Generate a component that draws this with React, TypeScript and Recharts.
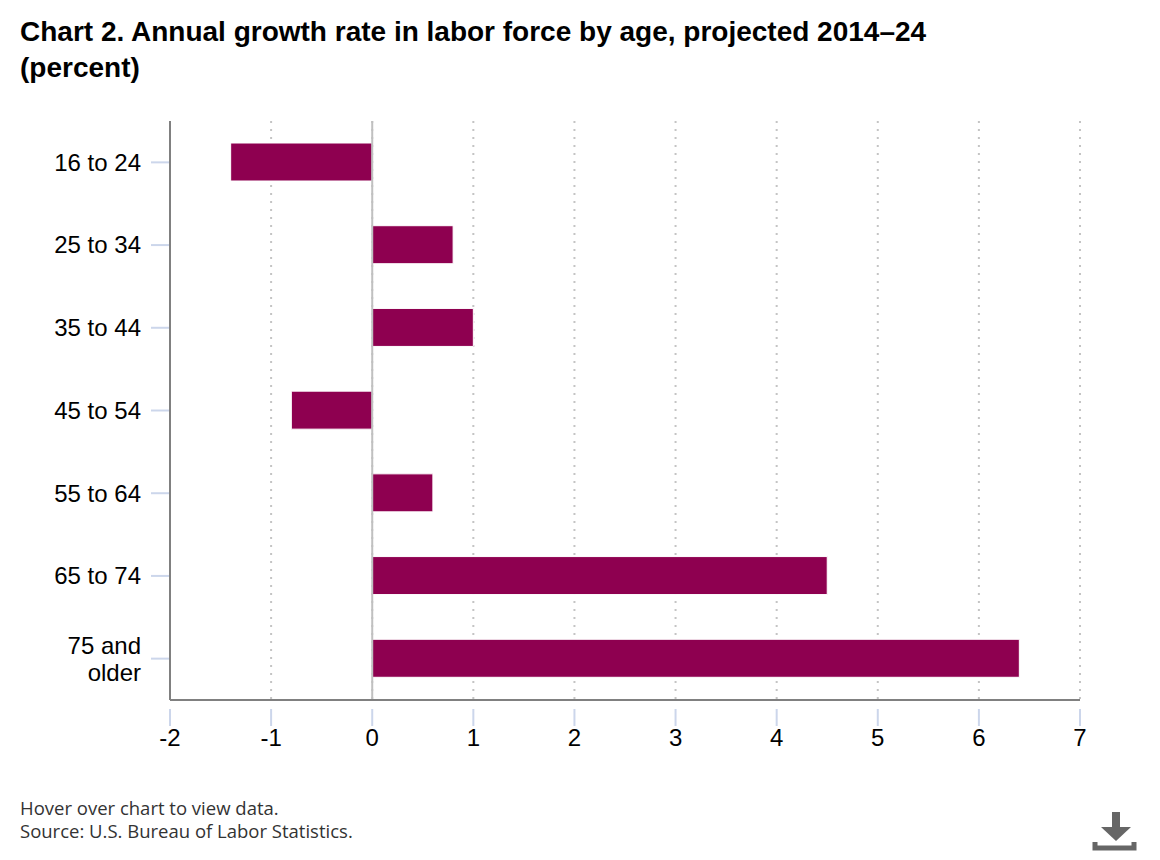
import React from "react";
import { BarChart, Bar, XAxis, YAxis, CartesianGrid, ReferenceLine } from "recharts";

const ageGroups = ["16 to 24", "25 to 34", "35 to 44", "45 to 54", "55 to 64", "65 to 74", "75 and older"];
const growthRates = [-1.4, 0.8, 1.0, -0.8, 0.6, 4.5, 6.4];
const xTicks = [-2, -1, 0, 1, 2, 3, 4, 5, 6, 7];

const data = ageGroups.map((age, i) => ({ age, value: growthRates[i] }));

const FONT = "'Liberation Sans', Arial, Helvetica, sans-serif";

const splitLabel = (label: string): string[] => {
  if (label.length <= 9) return [label];
  const idx = label.lastIndexOf(" ");
  return [label.slice(0, idx), label.slice(idx + 1)];
};

const YTick = (props: any) => {
  const { x, y, payload } = props;
  const lines = splitLabel(String(payload.value));
  const lh = 27;
  const start = -((lines.length - 1) * lh) / 2;
  return (
    <g>
      <line x1={x - 11} x2={x + 7} y1={y} y2={y} stroke="#ccd6eb" strokeWidth={2} />
      {lines.map((l, i) => (
        <text
          key={i}
          x={x - 21}
          y={y + start + i * lh}
          dy="0.35em"
          textAnchor="end"
          fontFamily={FONT}
          fontSize={24}
          fill="#000"
        >
          {l}
        </text>
      ))}
    </g>
  );
};

const XTick = (props: any) => {
  const { x, y, payload } = props;
  return (
    <g>
      <line x1={x} x2={x} y1={y + 1} y2={y + 18} stroke="#ccd6eb" strokeWidth={2} />
      <text x={x} y={y + 38} textAnchor="middle" fontFamily={FONT} fontSize={24} fill="#000">
        {payload.value}
      </text>
    </g>
  );
};

export default function App() {
  return (
    <div style={{ position: "absolute", left: 0, top: 0, width: 1160, height: 860, background: "#fff" }}>
      <div
        style={{
          position: "absolute",
          left: 20,
          top: 14,
          fontFamily: FONT,
          fontWeight: "bold",
          fontSize: 28,
          lineHeight: "36px",
          color: "#000",
          whiteSpace: "nowrap",
        }}
      >
        Chart 2. Annual growth rate in labor force by age, projected 2014–24
        <br />
        (percent)
      </div>
      <div style={{ position: "absolute", left: 0, top: 0 }}>
        <BarChart
          width={1160}
          height={860}
          data={data}
          layout="vertical"
          margin={{ top: 121, right: 80, bottom: 120, left: 0 }}
          barSize={38}
        >
          <CartesianGrid
            horizontal={false}
            vertical={true}
            stroke="#c4c4c4"
            strokeWidth={2}
            strokeDasharray="2 6"
          />
          <XAxis
            type="number"
            dataKey="value"
            domain={[-2, 7]}
            ticks={xTicks}
            interval={0}
            height={40}
            axisLine={{ stroke: "#808080", strokeWidth: 2 }}
            tickLine={false}
            tick={<XTick />}
          />
          <YAxis
            type="category"
            dataKey="age"
            width={170}
            axisLine={{ stroke: "#808080", strokeWidth: 2 }}
            tickLine={false}
            tick={<YTick />}
            interval={0}
          />
          <ReferenceLine x={0} stroke="#c0c0c0" strokeWidth={2} />
          <Bar dataKey="value" fill="#8e0050" stroke="#ffffff" strokeWidth={1} isAnimationActive={false} />
        </BarChart>
      </div>
      <div
        style={{
          position: "absolute",
          left: 20,
          top: 796,
          fontFamily: "'Open Sans', 'DejaVu Sans', sans-serif",
          fontSize: 18.5,
          lineHeight: "23px",
          color: "#333",
          whiteSpace: "nowrap",
        }}
      >
        Hover over chart to view data.
        <br />
        Source: U.S. Bureau of Labor Statistics.
      </div>
      <svg style={{ position: "absolute", left: 1090, top: 808 }} width={50} height={46}>
        <rect x={22} y={4} width={8} height={16} fill="#666" />
        <polygon points="11,19 41,19 26,33" fill="#666" />
        <path d="M5,34 L5,40 L44,40 L44,34" fill="none" stroke="#666" strokeWidth={5} />
      </svg>
    </div>
  );
}
